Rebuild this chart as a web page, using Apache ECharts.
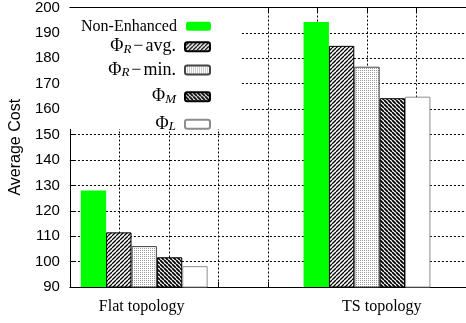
<!DOCTYPE html>
<html>
<head>
<meta charset="utf-8">
<script src="https://cdn.jsdelivr.net/npm/echarts@6/dist/echarts.min.js"></script>
<style>
  html, body { margin: 0; padding: 0; background: #fff; }
  #main { width: 466px; height: 323px; }
</style>
</head>
<body>
<div id="main"></div>
<script>
// data
var categories = ['Flat topology', 'TS topology'];
var groupPos = [3, 12];        // cluster centres on the x scale (bar-width units)
var labelPos = [2.9, 12.6];    // where the category labels sit
var seriesNames = ['Non-Enhanced', 'ΦR−avg.', 'ΦR−min.', 'ΦM', 'ΦL'];
var nonEnhanced = [128, 194.3];
var phiRAvg = [111.5, 184.9];
var phiRMin = [106.1, 176.7];
var phiM = [101.7, 164.3];
var phiL = [98.2, 164.9];
var yMin = 90, yMax = 200, yStep = 10;

var legendLabels = [
    '{n|Non-Enhanced}',
    '{p|Φ}{s|R}{m|−}{p|avg.}',
    '{p|Φ}{s|R}{m|−}{p|min.}',
    '{p|Φ}{s|M}',
    '{p|Φ}{s|L}'
];
// centre line of each key row in pixels (gnuplot spaces them unevenly)
var keyRowY = [27.3, 46.7, 70, 96.7, 124.3];

// fill patterns
function hatch(dir, step, lw) {
    var c = document.createElement('canvas');
    c.width = c.height = step;
    var g = c.getContext('2d');
    g.fillStyle = '#fff';
    g.fillRect(0, 0, step, step);
    g.strokeStyle = '#000';
    g.lineWidth = lw;
    g.beginPath();
    for (var k = -1; k <= 1; k++) {
        if (dir > 0) { g.moveTo(k * step, step); g.lineTo(k * step + step, 0); }
        else { g.moveTo(k * step, 0); g.lineTo(k * step + step, step); }
    }
    g.stroke();
    return c;
}
function dots() {
    var c = document.createElement('canvas');
    c.width = c.height = 2;
    var g = c.getContext('2d');
    g.fillStyle = '#fff';
    g.fillRect(0, 0, 2, 2);
    g.fillStyle = '#9a9a9a';
    g.fillRect(0, 0, 1, 1);
    return c;
}

var styles = [
    { color: '#00ff00', borderWidth: 0 },
    { color: { image: hatch(1, 4, 1.3), repeat: 'repeat' }, borderColor: '#000', borderWidth: 1 },
    { color: { image: dots(), repeat: 'repeat' }, borderColor: '#444', borderWidth: 1 },
    { color: { image: hatch(-1, 4, 1.8), repeat: 'repeat' }, borderColor: '#000', borderWidth: 1 },
    { color: '#fff', borderColor: '#8c8c8c', borderWidth: 1 }
];
var values = [nonEnhanced, phiRAvg, phiRMin, phiM, phiL];

var serif = 'Liberation Serif';
var rich = {
    n: { fontFamily: serif, fontSize: 16, color: '#000', lineHeight: 18 },
    p: { fontFamily: serif, fontSize: 18, color: '#000', lineHeight: 18 },
    s: { fontFamily: serif, fontStyle: 'italic', fontSize: 13, color: '#000', lineHeight: 9, verticalAlign: 'bottom' },
    m: { fontFamily: serif, fontSize: 18, color: '#000', lineHeight: 18, padding: [0, 2, 0, 2] }
};

// one legend per key row; the first one also paints the white key box
var legends = seriesNames.map(function (name, i) {
    var lg = {
        orient: 'vertical',
        align: 'right',
        itemWidth: 25,
        itemHeight: 9,
        selectedMode: false,
        data: [name],
        formatter: function (n) { return legendLabels[seriesNames.indexOf(n)]; },
        textStyle: { padding: [0, 4, 0, 0], rich: rich }
    };
    if (i === 0) {
        lg.left = 64;
        lg.top = 8;
        lg.padding = [keyRowY[0] - 9 - 8, 30, 131 - keyRowY[0] - 9, 17];
        lg.backgroundColor = '#fff';
    } else {
        lg.right = 225;
        lg.top = keyRowY[i] - 9;
        lg.padding = [0, 30, 0, 0];
    }
    return lg;
});

var myChart = echarts.init(document.getElementById('main'));
var dash = { color: '#000', width: 1, type: [2, 2] };

myChart.setOption({
    animation: false,
    grid: { left: 63, right: -3, top: 7, bottom: 36 },
    legend: legends,
    xAxis: [
        {
            type: 'value', position: 'bottom', min: 0, max: 16, interval: 2,
            axisLine: { show: true, lineStyle: { color: '#000', width: 1 } },
            axisTick: { show: true, inside: true, length: 5, lineStyle: { color: '#000' } },
            axisLabel: { show: false },
            splitLine: { show: true, lineStyle: dash }
        },
        {
            type: 'value', position: 'top', min: 0, max: 16, interval: 2,
            axisLine: { show: true, lineStyle: { color: '#000', width: 1 } },
            axisTick: { show: true, inside: true, length: 5, lineStyle: { color: '#000' } },
            axisLabel: { show: false },
            splitLine: { show: false }
        },
        {
            type: 'value', position: 'bottom', min: 0, max: 16,
            axisLine: { show: false },
            axisTick: { show: false },
            splitLine: { show: false },
            axisLabel: {
                customValues: labelPos,
                margin: 12,
                fontFamily: serif,
                fontSize: 16,
                color: '#000',
                formatter: function (v) {
                    for (var i = 0; i < labelPos.length; i++) {
                        if (Math.abs(v - labelPos[i]) < 1e-6) return categories[i];
                    }
                    return '';
                }
            }
        }
    ],
    yAxis: {
        type: 'value', min: yMin, max: yMax, interval: yStep,
        name: 'Average Cost',
        nameLocation: 'middle',
        nameGap: 28,
        nameTextStyle: { fontFamily: 'Liberation Sans', fontSize: 16, color: '#000' },
        axisLine: { show: true, lineStyle: { color: '#000', width: 1 } },
        axisTick: { show: true, inside: true, length: 6, lineStyle: { color: '#000' } },
        axisLabel: { fontFamily: 'Liberation Sans', fontSize: 15, color: '#000', margin: 10 },
        splitLine: { show: true, lineStyle: dash }
    },
    series: seriesNames.map(function (name, i) {
        return {
            name: name,
            type: 'bar',
            xAxisIndex: 0,
            barWidth: 25.375,
            barGap: '0%',
            itemStyle: styles[i],
            emphasis: { disabled: true },
            data: groupPos.map(function (x, j) { return [x, values[i][j]]; })
        };
    })
});
</script>
</body>
</html>
